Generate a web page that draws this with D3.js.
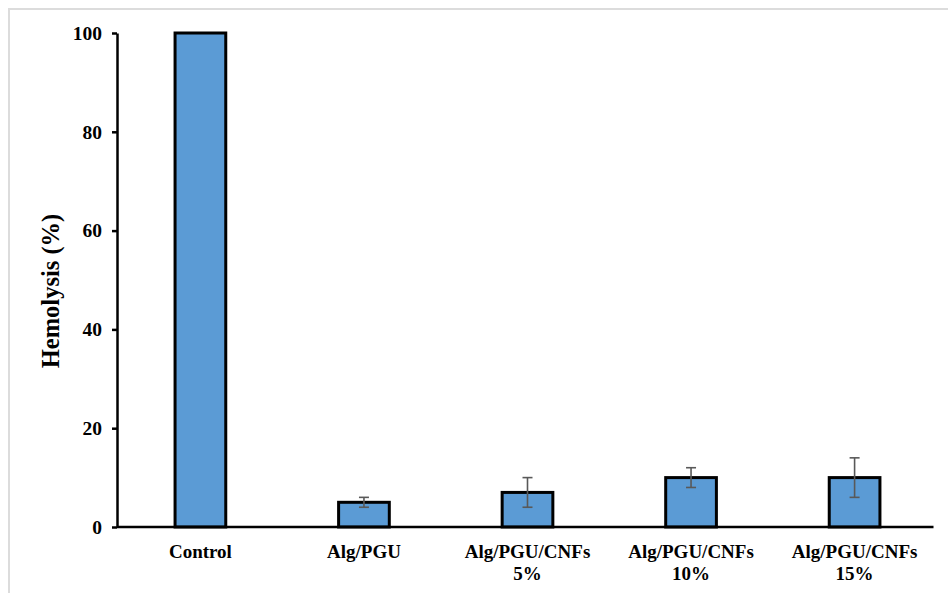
<!DOCTYPE html>
<html>
<head>
<meta charset="utf-8">
<script src="https://cdn.jsdelivr.net/npm/d3@7"></script>
<style>
  html, body { margin: 0; padding: 0; background: #fff; }
  svg { display: block; }
  text { font-family: "Liberation Serif", "Times New Roman", serif; font-weight: bold; fill: #000; }
</style>
</head>
<body>
<svg id="chart" width="948" height="593"></svg>
<script>
// Hemolysis of each sample (%), mean and error
const categories = ["Control", "Alg/PGU", "Alg/PGU/CNFs 5%", "Alg/PGU/CNFs 10%", "Alg/PGU/CNFs 15%"];
const labelLines = [["Control"], ["Alg/PGU"], ["Alg/PGU/CNFs", "5%"], ["Alg/PGU/CNFs", "10%"], ["Alg/PGU/CNFs", "15%"]];
const values = [100, 5, 7, 10, 10];
const errors = [0, 1, 3, 2, 4];
const yTicks = [0, 20, 40, 60, 80, 100];

const svg = d3.select("#chart");

// light frame along the top and left edges
svg.append("path")
  .attr("d", "M9,593 V9 H948")
  .attr("fill", "none")
  .attr("stroke", "#dcdcdc")
  .attr("stroke-width", 2);

const plotLeft = 117, plotRight = 933.5, plotTop = 33, plotBottom = 527;

const x = d3.scaleBand().domain(categories).range([plotLeft, 938]).paddingInner(0.69).paddingOuter(0.355);
const y = d3.scaleLinear().domain([0, 100]).range([plotBottom, plotTop]);

// bars
svg.append("g").selectAll("rect")
  .data(categories)
  .join("rect")
  .attr("x", d => x(d))
  .attr("y", (d, i) => y(values[i]))
  .attr("width", x.bandwidth())
  .attr("height", (d, i) => y(0) - y(values[i]))
  .attr("fill", "#5b9bd5")
  .attr("stroke", "#000")
  .attr("stroke-width", 3);

// error bars
const eg = svg.append("g").attr("stroke", "#595959").attr("stroke-width", 1.6);
categories.forEach((c, i) => {
  if (!errors[i]) return;
  const cx = x(c) + x.bandwidth() / 2;
  const y1 = y(values[i] + errors[i]), y2 = y(values[i] - errors[i]);
  eg.append("line").attr("x1", cx).attr("x2", cx).attr("y1", y1).attr("y2", y2);
  eg.append("line").attr("x1", cx - 5).attr("x2", cx + 5).attr("y1", y1).attr("y2", y1);
  eg.append("line").attr("x1", cx - 5).attr("x2", cx + 5).attr("y1", y2).attr("y2", y2);
});

// y axis
const yAxis = svg.append("g")
  .attr("transform", `translate(${plotLeft},0)`)
  .call(d3.axisLeft(y).tickValues(yTicks).tickSize(5).tickPadding(10).tickSizeOuter(0));
yAxis.select(".domain").attr("stroke", "#000").attr("stroke-width", 2.5);
yAxis.selectAll(".tick line").attr("stroke", "#000").attr("stroke-width", 2.5);
yAxis.selectAll(".tick text").style("font-size", "19.5px").style("font-family", "Liberation Serif").style("font-weight", "bold");

// x axis baseline
svg.append("line")
  .attr("x1", plotLeft).attr("x2", plotRight)
  .attr("y1", y(0)).attr("y2", y(0))
  .attr("stroke", "#000").attr("stroke-width", 2.5);

// category labels
const lg = svg.append("g");
categories.forEach((c, i) => {
  const cx = x(c) + x.bandwidth() / 2;
  labelLines[i].forEach((t, j) => {
    lg.append("text")
      .attr("x", cx)
      .attr("y", 558 + j * 22)
      .attr("text-anchor", "middle")
      .style("font-size", "19px")
      .text(t);
  });
});

// y title
svg.append("text")
  .attr("transform", "translate(59,291) rotate(-90)")
  .attr("text-anchor", "middle")
  .style("font-size", "24.5px")
  .text("Hemolysis (%)");
</script>
</body>
</html>
